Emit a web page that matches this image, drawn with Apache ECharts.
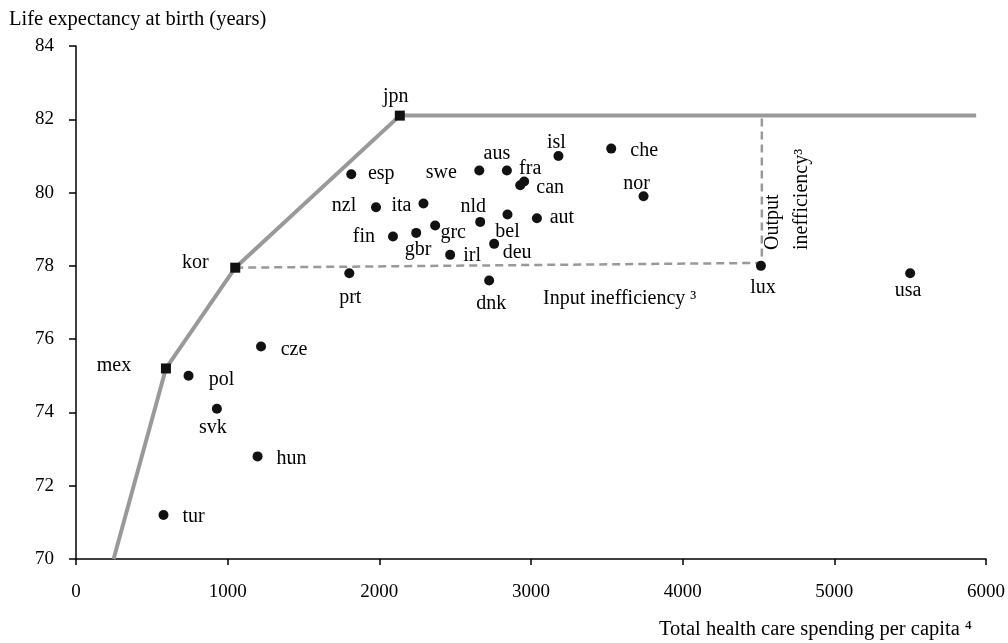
<!DOCTYPE html>
<html>
<head>
<meta charset="utf-8">
<script src="https://cdn.jsdelivr.net/npm/echarts@6/dist/echarts.min.js"></script>
<style>
html,body{margin:0;padding:0;background:#fff;}
#chart{width:1008px;height:643px;}
</style>
</head>
<body>
<div id="chart"></div>
<script>
// countries (dots)
var names = ['esp','swe','aus','nzl','ita','nld','bel','deu','irl','grc','gbr','fin','prt','dnk','fra','can','isl','che','nor','aut','lux','usa','pol','cze','svk','hun','tur'];
var spending = [1815,2659,2841,1978,2291,2665,2845,2757,2467,2368,2243,2090,1802,2724,2955,2929,3181,3529,3742,3039,4516,5500,742,1220,929,1197,577];
var lifeExp = [80.5,80.6,80.6,79.6,79.7,79.2,79.4,78.6,78.3,79.1,78.9,78.8,77.8,77.6,80.3,80.2,81.0,81.2,79.9,79.3,78.0,77.8,75.0,75.8,74.1,72.8,71.2];

// frontier countries (squares)
var frontierNames = ['mex','kor','jpn'];
var frontierSpending = [593,1050,2135];
var frontierLife = [75.2,77.95,82.1];

// efficiency frontier line
var frontierLineX = [248,593,1050,2135,5935];
var frontierLineY = [70,75.2,77.95,82.1,82.1];

// inefficiency guide (kor -> lux corner -> frontier)
var ineffX = [1050,4522,4522];
var ineffY = [77.95,78.08,82.1];

var xTicks = [0,1000,2000,3000,4000,5000,6000];
var yTicks = [70,72,74,76,78,80,82,84];

// label offsets from the mark centre, px
var labelOffset = {
  jpn:[-4,-19], kor:[-40,-5], mex:[-52,-3],
  esp:[30,-1], swe:[-38,2], aus:[-10,-17], nzl:[-32,-1], ita:[-22,2],
  nld:[-7,-15], bel:[0,17], deu:[23,9], irl:[22,1], grc:[18,7], gbr:[2,17],
  fin:[-29,0], prt:[1,25], dnk:[2,23], fra:[6,-13], can:[30,3], isl:[-2,-13],
  che:[33,2], nor:[-7,-12], aut:[25,0], lux:[2,22], usa:[-2,18],
  pol:[33,4], cze:[33,3], svk:[-4,19], hun:[34,2], tur:[30,2]
};

var FONT = 'Liberation Serif';
var TXT = '20px "Liberation Serif"';
var TXT_BIG = '20.5px "Liberation Serif"';

function pts(n, xs, ys){
  return n.map(function(name,i){
    return {
      name: name,
      value: [xs[i], ys[i]],
      label: {offset: labelOffset[name] || [0,0]}
    };
  });
}
function pairs(xs, ys){
  return xs.map(function(x,i){ return [x, ys[i]]; });
}

var labelStyle = {
  show: true,
  position: 'inside',
  formatter: '{b}',
  color: '#000',
  fontFamily: FONT,
  fontSize: 20,
  align: 'center',
  verticalAlign: 'middle'
};

var myChart = echarts.init(document.getElementById('chart'));
var option = {
  animation: false,
  backgroundColor: '#fff',
  grid: {left:76, right:22, top:46, bottom:84, containLabel:false, outerBoundsMode:'none'},
  xAxis: {
    type: 'value', min: xTicks[0], max: xTicks[xTicks.length-1], interval: 1000,
    splitLine: {show:false},
    axisLine: {onZero:false, lineStyle:{color:'#000', width:1.5}},
    axisTick: {show:true, length:6, lineStyle:{color:'#000', width:1.5}},
    axisLabel: {color:'#000', fontFamily:FONT, fontSize:19, margin:24,
      formatter: function(v){ return String(v); }}
  },
  yAxis: {
    type: 'value', min: yTicks[0], max: yTicks[yTicks.length-1], interval: 2,
    splitLine: {show:false},
    axisLine: {onZero:false, lineStyle:{color:'#000', width:1.5}},
    axisTick: {show:true, length:7, lineStyle:{color:'#000', width:1.5}},
    axisLabel: {color:'#000', fontFamily:FONT, fontSize:19, margin:22}
  },
  graphic: [
    {type:'text', left:9, top:9, style:{text:'Life expectancy at birth (years)', font:TXT_BIG, fill:'#000'}},
    {type:'text', right:36, top:619, style:{text:'Total health care spending per capita \u2074', font:TXT_BIG, fill:'#000'}},
    {type:'text', x:543, y:299, style:{text:'Input inefficiency \u00b3', font:TXT, fill:'#000', textVerticalAlign:'middle'}},
    {type:'text', x:773, y:250, rotation:Math.PI/2, style:{text:'Output', font:TXT, fill:'#000', textAlign:'left', textVerticalAlign:'middle'}},
    {type:'text', x:802, y:250, rotation:Math.PI/2, style:{text:'inefficiency\u00b3', font:TXT, fill:'#000', textAlign:'left', textVerticalAlign:'middle'}}
  ],
  series: [
    {
      type: 'line', name: 'frontier', data: pairs(frontierLineX, frontierLineY),
      symbol: 'none', lineStyle: {color:'#999', width:4}, z: 1, silent: true
    },
    {
      type: 'line', name: 'inefficiency', data: pairs(ineffX, ineffY),
      symbol: 'none', lineStyle: {color:'#999', width:2.5, type:[8,5]}, z: 1, silent: true
    },
    {
      type: 'scatter', name: 'countries', data: pts(names, spending, lifeExp),
      symbol: 'circle', symbolSize: 10, itemStyle: {color:'#111', opacity:1}, label: labelStyle, z: 3
    },
    {
      type: 'scatter', name: 'frontierCountries', data: pts(frontierNames, frontierSpending, frontierLife),
      symbol: 'rect', symbolSize: 10, itemStyle: {color:'#111', opacity:1}, label: labelStyle, z: 3
    }
  ]
};
myChart.setOption(option);
</script>
</body>
</html>
